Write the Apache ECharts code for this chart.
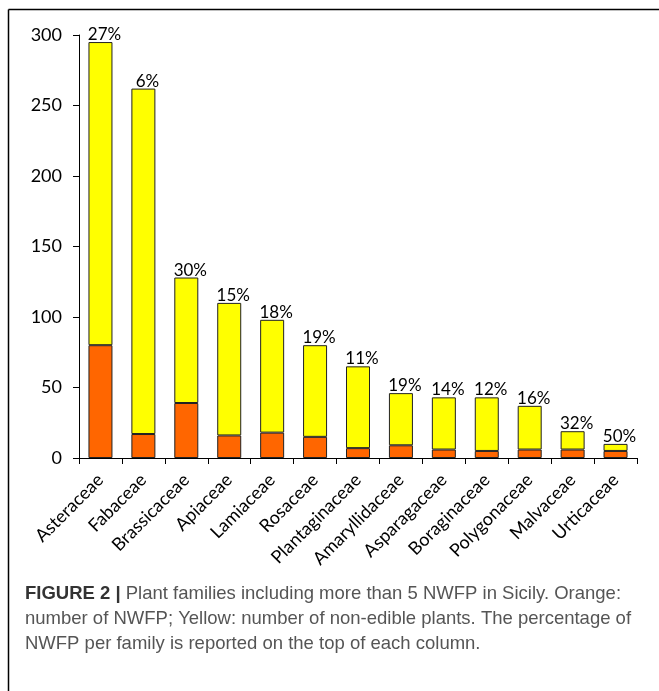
<!DOCTYPE html>
<html>
<head>
<meta charset="utf-8">
<script src="https://cdn.jsdelivr.net/npm/echarts@6/dist/echarts.min.js"></script>
<style>
html,body{margin:0;padding:0;background:#fff;}
#chart{width:659px;height:691px;}
</style>
</head>
<body>
<div id="chart"></div>
<script>
const families = ['Asteraceae','Fabaceae','Brassicaceae','Apiaceae','Lamiaceae','Rosaceae','Plantaginaceae','Amaryllidaceae','Asparagaceae','Boraginaceae','Polygonaceae','Malvaceae','Urticaceae'];
const nwfp = [80, 17, 39, 16, 18, 15, 7, 9, 6, 5, 6, 6, 5];
const nonEdible = [215, 245, 89, 94, 80, 65, 58, 37, 37, 38, 31, 13, 5];
const percentLabels = ['27%','6%','30%','15%','18%','19%','11%','19%','14%','12%','16%','32%','50%'];
const yTicks = [0, 50, 100, 150, 200, 250, 300];

const chart = echarts.init(document.getElementById('chart'), null, {renderer: 'canvas'});
const font = 'Lato, "Open Sans", sans-serif';
chart.setOption({
  animation: false,
  backgroundColor: '#fff',
  grid: {left: 79, right: 22, top: 35, bottom: 233, containLabel: false},
  xAxis: {
    type: 'category',
    data: families,
    axisLine: {lineStyle: {color: '#000', width: 1}},
    axisTick: {show: true, alignWithLabel: false, length: 6, lineStyle: {color: '#000'}},
    axisLabel: {rotate: 45, margin: 19, color: '#000', fontSize: 18, fontFamily: font, interval: 0}
  },
  yAxis: {
    type: 'value',
    min: yTicks[0], max: yTicks[yTicks.length - 1], interval: 50,
    axisLine: {show: true, lineStyle: {color: '#000', width: 1}},
    axisTick: {show: true, length: 6, lineStyle: {color: '#000'}},
    splitLine: {show: false},
    axisLabel: {color: '#000', fontSize: 18, fontFamily: font, margin: 17}
  },
  series: [
    {
      name: 'NWFP', type: 'bar', stack: 'total', data: nwfp, barWidth: 24,
      itemStyle: {color: '#FF6600', borderColor: '#222', borderWidth: 1}
    },
    {
      name: 'Non-edible', type: 'bar', stack: 'total', data: nonEdible, barWidth: 24,
      itemStyle: {color: '#FFFF00', borderColor: '#222', borderWidth: 1},
      label: {
        show: true, position: 'top', distance: 0, color: '#000', fontSize: 17, fontFamily: font,
        offset: [4, 1],
        formatter: p => percentLabels[p.dataIndex]
      }
    }
  ],
  graphic: [
    {type: 'line', shape: {x1: 8.5, y1: 9.5, x2: 659, y2: 9.5}, style: {stroke: '#000', lineWidth: 1.5}},
    {type: 'line', shape: {x1: 8.5, y1: 9.5, x2: 8.5, y2: 691}, style: {stroke: '#000', lineWidth: 1.5}},
    {
      type: 'text', left: 25, top: 581,
      style: {
        text: '{b|FIGURE 2 |} Plant families including more than 5 NWFP in Sicily. Orange:\nnumber of NWFP; Yellow: number of non-edible plants. The percentage of\nNWFP per family is reported on the top of each column.',
        font: '18.5px "Liberation Sans", Arial, sans-serif',
        fill: '#555',
        lineHeight: 25,
        rich: {b: {font: 'bold 18.5px "Liberation Sans", Arial, sans-serif', fill: '#333', lineHeight: 25}}
      }
    }
  ]
});
</script>
</body>
</html>
